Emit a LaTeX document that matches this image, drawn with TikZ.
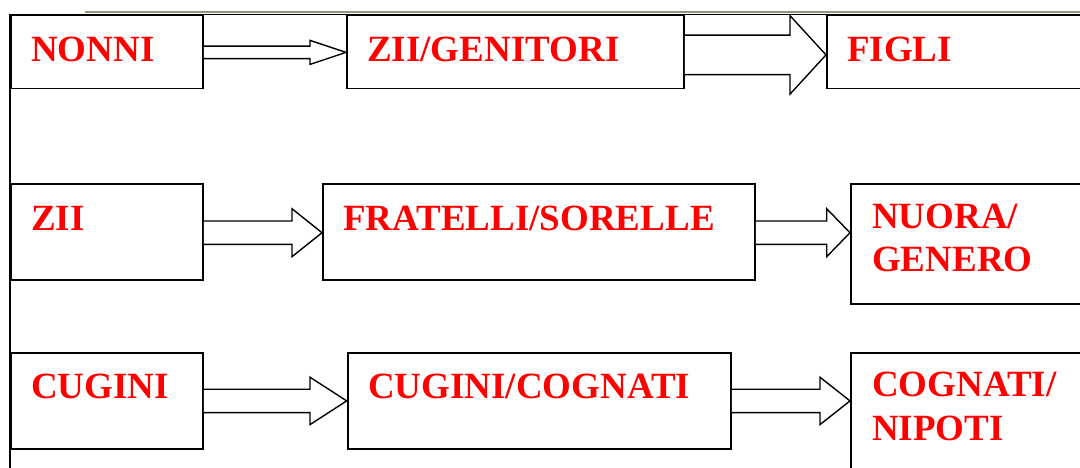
\documentclass[tikz,border=0pt]{standalone}
\usepackage{fontspec}
\setmainfont{Liberation Serif}
\usetikzlibrary{calc}
\definecolor{txtred}{RGB}{255,0,0}
\definecolor{topgray}{RGB}{150,146,130}
\tikzset{
  box/.style={draw=black, line width=1.8pt, rectangle, inner sep=0pt, anchor=north west},
  txt/.style={text=txtred, font=\fontsize{37}{43.4}\selectfont\bfseries, inner sep=0pt, anchor=base west, align=left},
  arr/.style={draw=black, line width=1.4pt, fill=white, line join=miter}
}
% #1 from, #2 to, #3 shaft half width, #4 head half width, #5 head length, #6 vertical shift
\newcommand{\blockarr}[6]{%
  \draw[arr] ($(#1.east)+(0,#6-#3)$) -- ($(#2.west |- #1.east)+(-#5,#6-#3)$)
    -- ($(#2.west |- #1.east)+(-#5,#6-#4)$) -- ($(#2.west |- #1.east)+(0,#6)$)
    -- ($(#2.west |- #1.east)+(-#5,#6+#4)$) -- ($(#2.west |- #1.east)+(-#5,#6+#3)$)
    -- ($(#1.east)+(0,#6+#3)$);}
\begin{document}
\begin{tikzpicture}[x=1pt, y=-1pt]
\clip (0,0) rectangle (1080,467);
\fill[white] (0,0) rectangle (1080,467);
% frame lines
\draw[topgray, line width=2.6pt] (85,12) -- (1080,12);
\coordinate (tl) at (10,14.5);
\coordinate (tr) at (1085,14.5);
\coordinate (bl) at (10,470);
\draw[black, line width=1.8pt] (tr) -- (tl) -- (bl);
% row 1
\node[box, minimum width=192pt, minimum height=73pt] (b11) at (10,14.5) {};
\node[box, minimum width=337pt, minimum height=73pt] (b12) at (346,14.5) {};
\node[box, minimum width=280pt, minimum height=73pt] (b13) at (826,14.5) {};
\node[txt] (t11) at (31,61.7) {NONNI};
\node[txt] (t12) at (367,61.7) {ZII/GENITORI};
\node[txt] (t13) at (847,61.7) {FIGLI};
% row 2
\node[box, minimum width=192pt, minimum height=96pt] (b21) at (10,183.3) {};
\node[box, minimum width=432pt, minimum height=96pt] (b22) at (322,183.3) {};
\node[box, minimum width=260pt, minimum height=120pt] (b23) at (850,183.3) {};
\node[txt] (t21) at (31,230.5) {ZII};
\node[txt] (t22) at (343,230.5) {FRATELLI/SORELLE};
\node[txt] (t23) at (872,271.7) {NUORA/\\GENERO};
% row 3
\node[box, minimum width=192pt, minimum height=96pt] (b31) at (10,351.7) {};
\node[box, minimum width=383.3pt, minimum height=96pt] (b32) at (346.7,351.7) {};
\node[box, minimum width=260pt, minimum height=130pt] (b33) at (850,351.7) {};
\node[txt] (t31) at (31,398.3) {CUGINI};
\node[txt] (t32) at (368,398.3) {CUGINI/COGNATI};
\node[txt] (t33) at (872,440) {COGNATI/\\NIPOTI};
% block arrows
\blockarr{b11}{b12}{6.25}{12}{36}{0.5}
\blockarr{b12}{b13}{19.75}{39.25}{36}{3}
\blockarr{b21}{b22}{11.7}{24}{30}{0.5}
\blockarr{b22}{b23}{11.7}{24}{23.3}{0.5}
\blockarr{b31}{b32}{11.7}{23.7}{36.7}{0.3}
\blockarr{b32}{b33}{11.7}{23.7}{30}{0.3}
\end{tikzpicture}
\end{document}
